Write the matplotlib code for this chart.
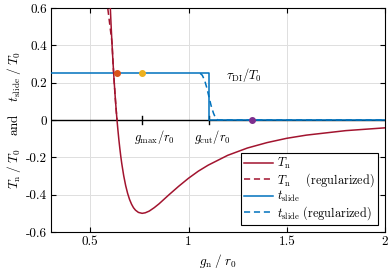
import numpy as np
import matplotlib
matplotlib.use("Agg")
import matplotlib.pyplot as plt

plt.rcParams["font.family"] = "cmr10"
plt.rcParams["mathtext.fontset"] = "cm"
plt.rcParams["axes.unicode_minus"] = False
plt.rcParams["axes.formatter.use_mathtext"] = True

# normal traction T_n / T_0
g_Tn = [0.595, 0.600, 0.605, 0.610, 0.615, 0.620, 0.625, 0.630, 0.633, 0.636,
        0.640, 0.645, 0.650, 0.655, 0.660, 0.670, 0.680, 0.690, 0.700, 0.710,
        0.720, 0.730, 0.745, 0.764, 0.780, 0.800, 0.825, 0.850, 0.875, 0.900,
        0.950, 1.000, 1.050, 1.100, 1.200, 1.300, 1.400, 1.500, 1.600, 1.800,
        2.000]
Tn = [0.780, 0.647, 0.528, 0.419, 0.321, 0.232, 0.151, 0.078, 0.038, 0.000,
      -0.047, -0.101, -0.149, -0.193, -0.232, -0.298, -0.351, -0.393, -0.426, -0.451,
      -0.470, -0.483, -0.495, -0.500, -0.497, -0.488, -0.470, -0.449, -0.425, -0.401,
      -0.355, -0.312, -0.274, -0.242, -0.189, -0.150, -0.121, -0.098, -0.081, -0.057,
      -0.042]

# regularized part (only where it differs from T_n)
g_Tn_reg = [0.583, 0.611, 0.615, 0.620, 0.625, 0.630, 0.636]
Tn_reg = [0.65, 0.41, 0.321, 0.232, 0.151, 0.078, 0.0]

# sliding traction
g_ts = [0.3, 1.104, 1.104, 2.0]
ts = [0.25, 0.25, 0.0, 0.0]

g_ts_reg = [1.059, 1.070, 1.082, 1.093, 1.104, 1.115, 1.127, 1.138, 1.149, 2.0]
ts_reg = [0.25, 0.240, 0.213, 0.173, 0.125, 0.077, 0.037, 0.010, 0.0, 0.0]

g_max = 0.764
g_cut = 1.104
g_zero = 0.636
g_purple = 1.325
tau_DI = 0.25

xticks = [0.5, 1, 1.5, 2]
xticklabels = ["0.5", "1", "1.5", "2"]
yticks = [-0.6, -0.4, -0.2, 0, 0.2, 0.4, 0.6]
yticklabels = ["-0.6", "-0.4", "-0.2", "0", "0.2", "0.4", "0.6"]

red = "#A2142F"
blue = "#0072BD"

fig = plt.figure(figsize=(3.9, 2.76), dpi=100)
ax = fig.add_axes([0.1308, 0.1594, 0.987 - 0.1308, 0.971 - 0.1594])

# zero line and tick marks at g_max, g_cut
ax.plot([0.3, 2.0], [0, 0], color="k", lw=1.0, zorder=2)
for gx in [g_max, g_cut]:
    ax.plot([gx, gx], [-0.022, 0.02], color="k", lw=1.0, zorder=2)

ax.plot(g_Tn_reg, Tn_reg, "--", color=red, lw=1.1, zorder=3, dashes=(4, 2.5))
l1, = ax.plot(g_Tn, Tn, "-", color=red, lw=1.1, zorder=4)
l2, = ax.plot([], [], "--", color=red, lw=1.1, dashes=(4, 2.5))
l4, = ax.plot(g_ts_reg, ts_reg, "--", color=blue, lw=1.1, zorder=2.5, dashes=(4, 2.5))
l3, = ax.plot(g_ts, ts, "-", color=blue, lw=1.1, zorder=3)

ax.plot(g_zero, tau_DI, "o", color="#D95319", ms=4, zorder=5)
ax.plot(g_max, tau_DI, "o", color="#EDB120", ms=4, zorder=5)
ax.plot(g_purple, 0, "o", color="#7E2F8E", ms=4, zorder=5)

ax.text(g_max + 0.065, -0.09, r"$g_{\max}/r_0$", ha="center", va="center", fontsize=9)
ax.text(g_cut + 0.02, -0.09, r"$g_{\mathrm{cut}}/r_0$", ha="center", va="center", fontsize=9)
ax.text(1.19, 0.24, r"$\tau_{\mathrm{DI}}/T_0$", ha="left", va="center", fontsize=9)

ax.set_xlim(0.3, 2.0)
ax.set_ylim(-0.6, 0.6)
ax.set_xticks(xticks)
ax.set_xticklabels(xticklabels, fontsize=9.5)
ax.set_yticks(yticks)
ax.set_yticklabels(yticklabels, fontsize=9.5)
ax.tick_params(direction="in", length=3.5, width=0.8, top=True, right=True, pad=3)
ax.grid(True, color="#dfdfdf", lw=0.7)
ax.set_axisbelow(True)
for s in ax.spines.values():
    s.set_linewidth(0.8)

ax.set_xlabel(r"$g_{\mathrm{n}}\;/\;r_0$", fontsize=9.5, labelpad=3)
ax.set_ylabel(r"$T_{\mathrm{n}}\;/\;T_0$   and   $t_{\mathrm{slide}}\;/\;T_0$",
              fontsize=9.5, labelpad=2)

leg = ax.legend([l1, l2, l3, l4],
                [r"$T_{\mathrm{n}}$",
                 r"$T_{\mathrm{n}}$    (regularized)",
                 r"$t_{\mathrm{slide}}$",
                 r"$t_{\mathrm{slide}}$ (regularized)"],
                loc="lower right", fontsize=8.8, frameon=True, fancybox=False,
                edgecolor="k", framealpha=1, handlelength=2.4, handletextpad=0.3,
                labelspacing=0.0, borderpad=0.25, borderaxespad=0.6)
leg.get_frame().set_linewidth(0.8)

fig.savefig("out.png", dpi=100)
